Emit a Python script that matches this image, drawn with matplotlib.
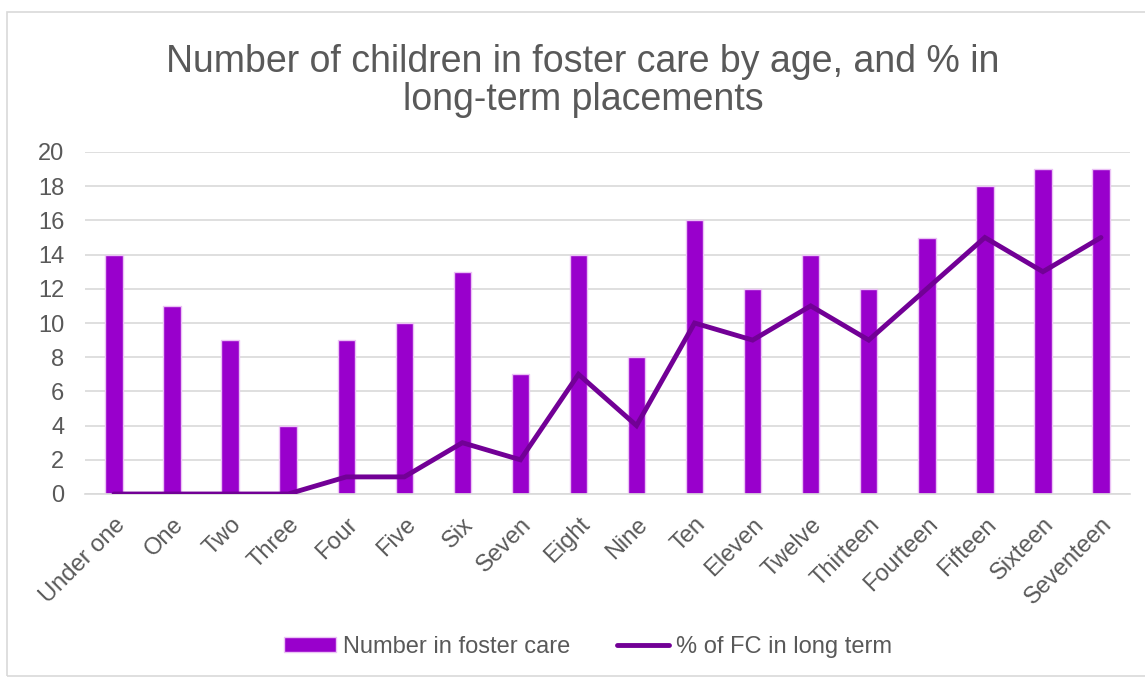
import numpy as np
import matplotlib.pyplot as plt
from matplotlib.patches import Rectangle

plt.rcParams['font.family'] = ['Liberation Sans', 'DejaVu Sans']

ages = ['Under one', 'One', 'Two', 'Three', 'Four', 'Five', 'Six', 'Seven', 'Eight',
        'Nine', 'Ten', 'Eleven', 'Twelve', 'Thirteen', 'Fourteen', 'Fifteen',
        'Sixteen', 'Seventeen']
in_foster_care = [14, 11, 9, 4, 9, 10, 13, 7, 14, 8, 16, 12, 14, 12, 15, 18, 19, 19]
long_term = [0, 0, 0, 0, 1, 1, 3, 2, 7, 4, 10, 9, 11, 9, 12, 15, 13, 15]
y_ticks = [0, 2, 4, 6, 8, 10, 12, 14, 16, 18, 20]

text_col = '#595959'
bar_col = '#9900CC'
line_col = '#720096'

fig = plt.figure(figsize=(11.45, 6.77), dpi=100)
# outer chart border
fig.patches.append(Rectangle((7 / 1145, 0.002), 1.2, 1 - 12 / 677 - 0.002,
                             transform=fig.transFigure, fill=False,
                             edgecolor='#D9D9D9', linewidth=1.2))

ax = fig.add_axes([85 / 1145, 1 - 494 / 677, (1130 - 85) / 1145, (494 - 152) / 677])
x = np.arange(len(ages))

bars = ax.bar(x, in_foster_care, width=0.3, color=bar_col, edgecolor='#EBC2F5',
              linewidth=1.0, label='Number in foster care', zorder=2)
line, = ax.plot(x, long_term, color=line_col, linewidth=3.5, solid_capstyle='round',
                solid_joinstyle='miter', label='% of FC in long term', zorder=3)

ax.set_xlim(-0.5, len(ages) - 0.5)
ax.set_ylim(0, 20)
ax.set_yticks(y_ticks)
ax.yaxis.grid(True, color='#D9D9D9', linewidth=1.2, zorder=0)
ax.set_axisbelow(True)
for side in ['top', 'right', 'left']:
    ax.spines[side].set_visible(False)
ax.spines['bottom'].set_color('#D9D9D9')
ax.spines['bottom'].set_linewidth(1.2)
ax.tick_params(axis='both', length=0, labelsize=17, labelcolor=text_col)
ax.tick_params(axis='y', pad=15)
ax.set_xticks(x)
ax.set_xticklabels(ages, rotation=45, ha='right', rotation_mode='anchor')
ax.tick_params(axis='x', pad=14)

fig.text(583 / 1145, 1 - 81 / 677,
         'Number of children in foster care by age, and % in\nlong-term placements',
         ha='center', va='center', fontsize=27, color=text_col, linespacing=1.1)

leg = fig.legend([bars, line], ['Number in foster care', '% of FC in long term'],
                 loc='center', bbox_to_anchor=(588 / 1145, 1 - 647 / 677), ncol=2,
                 frameon=False, fontsize=17, handlelength=2.2, handleheight=0.6,
                 columnspacing=2.0, handletextpad=0.3)
for t in leg.get_texts():
    t.set_color(text_col)

fig.savefig('out.png', dpi=100)
